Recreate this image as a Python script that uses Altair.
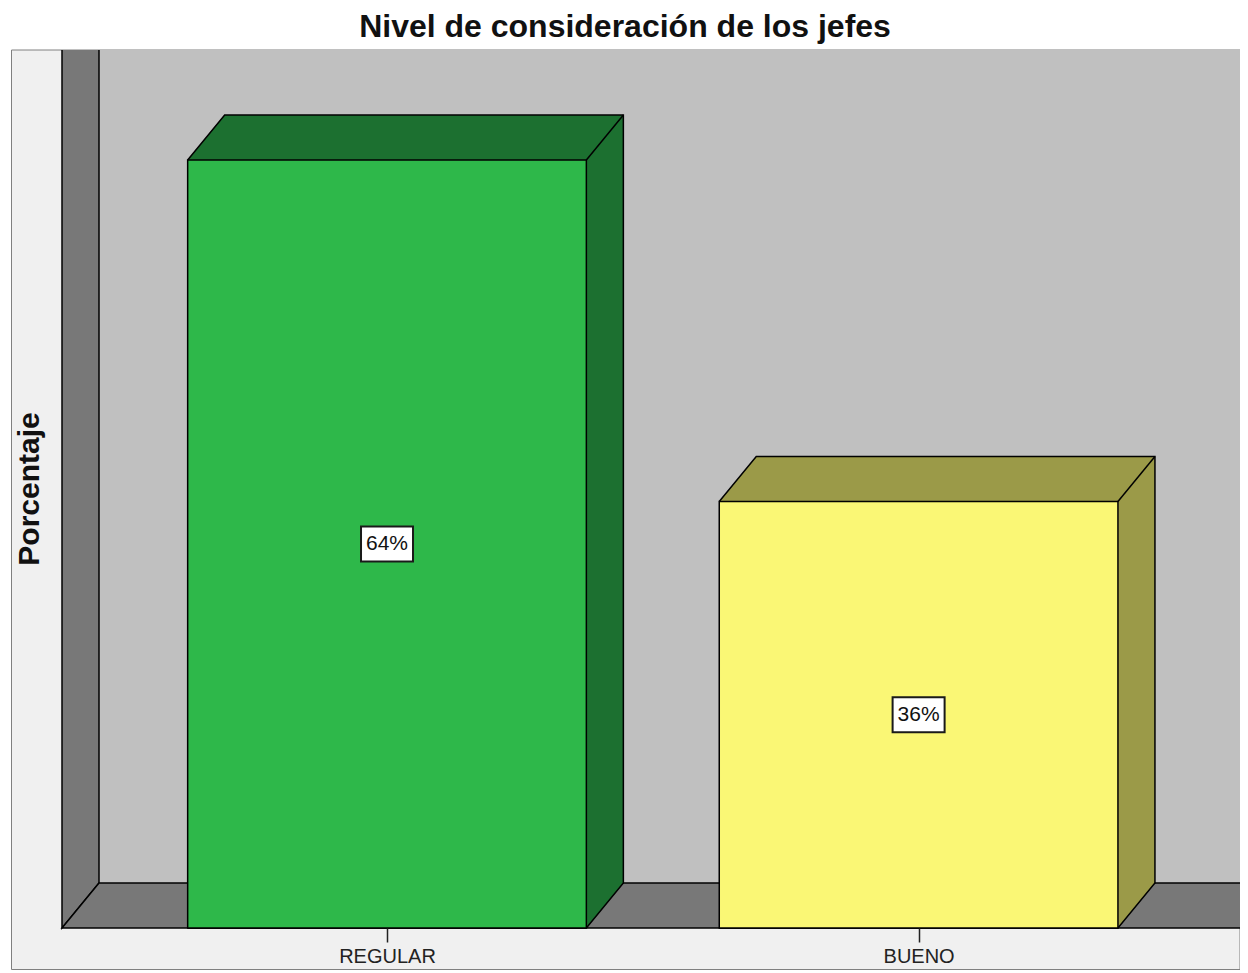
import json
import altair as alt
import pandas as pd

# ---- data ----
CATEGORIES = ["REGULAR", "BUENO"]
PERCENTS = [64.3, 35.7]
LABELS = ["64%", "36%"]
TITLE = "Nivel de consideración de los jefes"
Y_TITLE = "Porcentaje"

# ---- styles ----
FRONT_COLORS = ["#2eb84a", "#faf775"]
DEPTH_COLORS = ["#1c7030", "#9b9a48"]
WALL_SIDE = "#787878"
WALL_BACK = "#c0c0c0"
FRAME = "#f0f0f0"
FONT = "Liberation Sans"

W, H = 1178, 878
PAD = {"left": 54, "top": 42, "right": 0, "bottom": 42}
XMIN, XMAX = -0.6114, 1.6046
YMAX = 73.5
BAR_W = 0.75
DEPTH_X_PX, DEPTH_Y_PX = 37, 45
KX = W / (XMAX - XMIN)   # px per x unit
KY = H / YMAX            # px per y unit
dxu = DEPTH_X_PX / KX
dyu = DEPTH_Y_PX / KY

xs = alt.Scale(domain=[XMIN, XMAX], nice=False, zero=False)
ys = alt.Scale(domain=[0, YMAX], nice=False, zero=False)

label_expr = json.dumps(CATEGORIES) + "[round(datum.value)]"
AX_X = alt.Axis(
    title=None, values=list(range(len(CATEGORIES))), labelExpr=label_expr, grid=False,
    domain=False, tickSize=14, tickWidth=1.5, tickColor="#222222",
    labelFont=FONT, labelFontSize=20, labelColor="#222222",
    labelBaseline="alphabetic", labelPadding=20, labelAngle=0, zindex=2)
AX_Y = alt.Axis(
    title=Y_TITLE, labels=False, ticks=False, domain=False, grid=False,
    titleFont=FONT, titleFontSize=30, titleFontWeight="bold", titleColor="#111111",
    titleAngle=270, titleAlign="center", titleBaseline="alphabetic",
    titleX=-24, titleY=438.5, zindex=2)


def X(field):
    return alt.X(field, scale=xs, axis=AX_X)


def Y(field):
    return alt.Y(field, scale=ys, axis=AX_Y)


bars = pd.DataFrame({
    "category": CATEGORIES,
    "idx": list(range(len(CATEGORIES))),
    "pct": PERCENTS,
    "label": LABELS,
    "front": FRONT_COLORS,
    "depth": DEPTH_COLORS,
})
bars["x0"] = bars["idx"] - BAR_W / 2
bars["x1"] = bars["idx"] + BAR_W / 2
bars["base"] = 0.0
bars["mid"] = bars["pct"] / 2
bars["xd"] = bars["x1"] + dxu
bars["yd"] = bars["pct"] + dyu

# silhouettes (top + side faces) of the 3D bars
rows = []
for b in bars.to_dict("records"):
    pts = [(b["x0"], b["pct"]), (b["x0"] + dxu, b["pct"] + dyu),
           (b["x1"] + dxu, b["pct"] + dyu), (b["x1"] + dxu, dyu),
           (b["x1"], 0.0), (b["x0"], 0.0)]
    for i, (px, py) in enumerate(pts):
        rows.append({"shape": b["category"], "i": i, "x": px, "y": py, "fill": b["depth"]})
sil = pd.DataFrame(rows)

# walls
wall_rows = []
left_wall = [(XMIN, YMAX), (XMIN, 0.0), (XMIN + dxu, dyu), (XMIN + dxu, YMAX)]
floor = [(XMAX, 0.0), (XMIN, 0.0), (XMIN + dxu, dyu), (XMAX, dyu)]
for name, pts in (("left", left_wall), ("floor", floor)):
    for i, (px, py) in enumerate(pts):
        wall_rows.append({"shape": name, "i": i, "x": px, "y": py})
walls = pd.DataFrame(wall_rows)
back = pd.DataFrame({"x": [XMIN + dxu], "x2": [XMAX], "y": [dyu], "y2": [YMAX]})

# outer light frame (decoration), extending into the padding
frame_df = pd.DataFrame({
    "x": [XMIN - 50.5 / KX], "x2": [XMAX], "y": [YMAX], "y2": [-41.5 / KY]})
frame = alt.Chart(frame_df).mark_rect(
    fill=FRAME, stroke="#808080", strokeWidth=1, clip=False
).encode(x=X("x:Q"), x2="x2:Q", y=Y("y:Q"), y2="y2:Q")

back_wall = alt.Chart(back).mark_rect(fill=WALL_BACK, strokeWidth=0).encode(
    x=X("x:Q"), x2="x2:Q", y=Y("y:Q"), y2="y2:Q",
)

wall_shapes = alt.Chart(walls).mark_line(
    fill=WALL_SIDE, stroke="black", strokeWidth=1.5
).encode(
    x=X("x:Q"), y=Y("y:Q"),
    order=alt.Order("i:Q"),
    detail="shape:N",
)

silhouettes = alt.Chart(sil).mark_line(stroke="black", strokeWidth=1.5).encode(
    x=X("x:Q"), y=Y("y:Q"),
    order=alt.Order("i:Q"),
    detail="shape:N",
    fill=alt.Fill("fill:N", scale=None),
)

fronts = alt.Chart(bars).mark_rect(stroke="black", strokeWidth=1.5).encode(
    x=X("x0:Q"), x2="x1:Q",
    y=Y("pct:Q"), y2="base:Q",
    fill=alt.Fill("front:N", scale=None),
)

edges = alt.Chart(bars).mark_rule(stroke="black", strokeWidth=1.5).encode(
    x=X("x1:Q"), x2="xd:Q",
    y=Y("pct:Q"), y2="yd:Q",
)

BOX = "M-1,-0.673L1,-0.673L1,0.673L-1,0.673Z"
boxes = alt.Chart(bars).mark_point(
    shape=BOX, size=52 * 52, filled=True, fill="white", stroke="#1a1a1a",
    strokeWidth=2, opacity=1
).encode(x=X("idx:Q"), y=Y("mid:Q"))

texts = alt.Chart(bars).mark_text(
    font=FONT, fontSize=21, color="#111111", align="center", baseline="middle"
).encode(x=X("idx:Q"), y=Y("mid:Q"), text="label:N")

title_df = pd.DataFrame({"t": [TITLE], "x": [XMIN + (625 - 62) / KX], "y": [YMAX + 13 / KY]})
title = alt.Chart(title_df).mark_text(
    font=FONT, fontSize=32, fontWeight="bold", color="#111111",
    align="center", baseline="alphabetic", clip=False
).encode(x=X("x:Q"), y=Y("y:Q"), text="t:N")

chart = alt.layer(
    frame, back_wall, wall_shapes, silhouettes, fronts, edges, boxes, texts, title
).properties(
    width=W, height=H,
    autosize=alt.AutoSizeParams(type="none"),
    padding=PAD,
    background="white",
).configure_view(stroke=None)

chart.save("out.html", embed_options={"renderer": "svg", "actions": False})
